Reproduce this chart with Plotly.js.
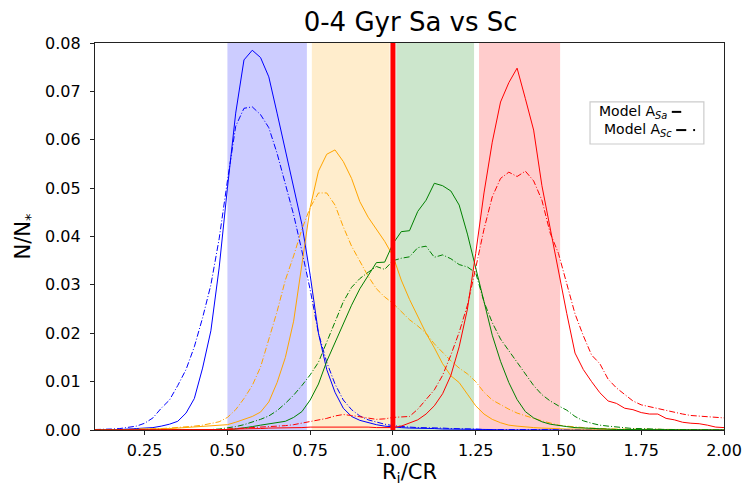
<!DOCTYPE html>
<html>
<head>
<meta charset="utf-8">
<script src="https://cdn.plot.ly/plotly-3.0.1.min.js"></script>
<style>html,body{margin:0;padding:0;background:#fff;}#chart{width:748px;height:486px;}</style>
</head>
<body>
<div id="chart"></div>
<script>
// Radius grid R_i/CR
const xR = [0.100,0.125,0.150,0.175,0.200,0.225,0.250,0.275,0.300,0.325,0.350,0.375,0.400,0.425,0.450,0.475,
0.500,0.525,0.550,0.575,0.600,0.625,0.650,0.675,0.700,0.725,0.750,0.775,0.800,0.825,0.850,0.875,0.900,0.925,0.950,0.975,
1.000,1.025,1.050,1.075,1.100,1.125,1.150,1.175,1.200,1.225,1.250,1.275,1.300,1.325,1.350,1.375,1.400,1.425,1.450,1.475,
1.500,1.525,1.550,1.575,1.600,1.625,1.650,1.675,1.700,1.725,1.750,1.775,1.800,1.825,1.850,1.875,1.900,1.925,1.950,1.975,2.000];

// Blue (0.50-0.75) population
const blueSa = [0,0,0.0001,0.0001,0.0002,0.0003,0.0004,0.0005,0.0008,0.0012,0.0018,0.0035,0.0065,0.0128,0.0205,0.0335,
0.0500,0.0655,0.0765,0.0785,0.0770,0.0730,0.0655,0.0580,0.0500,0.0425,0.0320,0.0200,0.0125,0.0078,0.0045,0.0028,0.0020,0.0015,0.0011,0.0008,
0.0006,0.0005,0.0004,0.0004,0.0003,0.0003,0.0002,0.0002,0.0002,0.0001,0.0001,0.0001,0.0001,0,0,0,0,0,0,0,
0,0,0,0,0,0,0,0,0,0,0,0,0,0,0,0,0,0,0,0,0];
const blueSc = [0.0001,0.0001,0.0002,0.0003,0.0005,0.0008,0.0014,0.0025,0.0045,0.0062,0.0092,0.0125,0.0172,0.0232,0.0300,0.0395,
0.0515,0.0628,0.0665,0.0668,0.0652,0.0625,0.0572,0.0510,0.0445,0.0370,0.0290,0.0200,0.0140,0.0095,0.0062,0.0042,0.0029,0.0021,0.0016,0.0012,
0.0009,0.0007,0.0006,0.0005,0.0005,0.0004,0.0004,0.0003,0.0003,0.0002,0.0002,0.0001,0.0001,0.0001,0,0,0,0,0,0,
0,0,0,0,0,0,0,0,0,0,0,0,0,0,0,0,0,0,0,0,0];

// Orange (0.75-1.00) population
const orangeSa = [0,0,0,0.0001,0.0001,0.0001,0.0002,0.0002,0.0003,0.0003,0.0004,0.0005,0.0007,0.0008,0.0009,0.0010,
0.0011,0.0016,0.0022,0.0028,0.0037,0.0058,0.0098,0.0150,0.0225,0.0340,0.0460,0.0535,0.0570,0.0579,0.0555,0.0520,0.0472,0.0440,0.0415,0.0390,
0.0360,0.0310,0.0270,0.0235,0.0200,0.0170,0.0137,0.0112,0.0098,0.0074,0.0050,0.0033,0.0022,0.0015,0.0010,0.0008,0.0006,0.0005,0.0004,0.0003,
0.0003,0.0002,0.0002,0.0002,0.0001,0.0001,0.0001,0.0001,0.0001,0,0,0,0,0,0,0,0,0,0,0,0];
const orangeSc = [0,0,0.0001,0.0001,0.0001,0.0002,0.0002,0.0003,0.0003,0.0004,0.0005,0.0006,0.0008,0.0010,0.0013,0.0017,
0.0026,0.0042,0.0065,0.0092,0.0130,0.0185,0.0245,0.0310,0.0360,0.0415,0.0460,0.0490,0.0490,0.0465,0.0420,0.0380,0.0350,0.0318,0.0292,0.0275,
0.0262,0.0245,0.0228,0.0215,0.0200,0.0178,0.0160,0.0143,0.0128,0.0116,0.0100,0.0078,0.0062,0.0052,0.0043,0.0035,0.0029,0.0024,0.0019,0.0014,
0.0010,0.0008,0.0006,0.0005,0.0004,0.0003,0.0003,0.0002,0.0002,0.0002,0.0001,0.0001,0.0001,0.0001,0.0001,0.0001,0,0,0,0,0];

// Green (1.00-1.25) population
const greenSa = [0,0,0,0,0,0,0,0,0,0,0,0,0,0,0,0.0001,
0.0001,0.0002,0.0004,0.0007,0.0010,0.0013,0.0015,0.0018,0.0026,0.0038,0.0062,0.0095,0.0142,0.0180,0.0220,0.0258,0.0292,0.0318,0.0346,0.0347,
0.0385,0.0410,0.0412,0.0452,0.0475,0.0510,0.0505,0.0494,0.0465,0.0405,0.0335,0.0268,0.0196,0.0142,0.0098,0.0063,0.0038,0.0025,0.0017,0.0012,
0.0009,0.0007,0.0005,0.0004,0.0003,0.0002,0.0002,0.0001,0.0001,0.0001,0.0001,0,0,0,0,0,0,0,0,0,0];
const greenSc = [0,0,0,0,0,0,0,0,0,0,0,0,0,0,0.0001,0.0002,
0.0004,0.0007,0.0011,0.0016,0.0022,0.0029,0.0040,0.0055,0.0072,0.0092,0.0114,0.0140,0.0182,0.0225,0.0265,0.0295,0.0313,0.0326,0.0338,0.0332,
0.0350,0.0355,0.0358,0.0377,0.0380,0.0357,0.0362,0.0354,0.0342,0.0337,0.0325,0.0265,0.0222,0.0188,0.0164,0.0140,0.0114,0.0092,0.0073,0.0060,
0.0050,0.0041,0.0028,0.0019,0.0014,0.0010,0.0008,0.0006,0.0004,0.0003,0.0003,0.0002,0.0002,0.0001,0.0001,0.0001,0.0001,0,0,0,0];

// Red (1.25-1.50) population
const redSa = [0,0,0,0,0,0,0,0,0,0,0,0,0,0,0,0,
0.0001,0.0002,0.0002,0.0003,0.0003,0.0004,0.0004,0.0005,0.0005,0.0005,0.0006,0.0006,0.0007,0.0007,0.0007,0.0007,0.0006,0.0006,0.0005,0.0005,
0.0005,0.0008,0.0014,0.0021,0.0033,0.0050,0.0075,0.0113,0.0172,0.0250,0.0365,0.0490,0.0595,0.0678,0.0718,0.0748,0.0685,0.0620,0.0505,0.0415,
0.0333,0.0241,0.0159,0.0125,0.0100,0.0077,0.0060,0.0055,0.0045,0.0042,0.0036,0.0033,0.0033,0.0024,0.0021,0.0016,0.0014,0.0013,0.0010,0.0006,0.0005];
const redSc = [0,0,0,0,0,0,0,0,0,0,0,0,0,0,0,0,
0.0002,0.0003,0.0004,0.0005,0.0005,0.0006,0.0007,0.0009,0.0011,0.0014,0.0017,0.0020,0.0024,0.0029,0.0032,0.0030,0.0027,0.0024,0.0022,0.0023,
0.0026,0.0027,0.0028,0.0043,0.0062,0.0083,0.0113,0.0155,0.0202,0.0258,0.0335,0.0415,0.0482,0.0520,0.0533,0.0524,0.0535,0.0515,0.0475,0.0407,
0.0365,0.0300,0.0240,0.0195,0.0155,0.0137,0.0105,0.0087,0.0074,0.0060,0.0052,0.0048,0.0044,0.0040,0.0036,0.0033,0.0030,0.0029,0.0028,0.0026,0.0025];

const xTicks = [0.25,0.50,0.75,1.00,1.25,1.50,1.75,2.00];
const yTicks = [0.00,0.01,0.02,0.03,0.04,0.05,0.06,0.07,0.08];

const series = [
  {y: blueSa, c: '#0000ff', d: 'solid'},
  {y: blueSc, c: '#0000ff', d: 'dashdot'},
  {y: orangeSa, c: '#ffa500', d: 'solid'},
  {y: orangeSc, c: '#ffa500', d: 'dashdot'},
  {y: greenSa, c: '#008000', d: 'solid'},
  {y: greenSc, c: '#008000', d: 'dashdot'},
  {y: redSa, c: '#ff0000', d: 'solid'},
  {y: redSc, c: '#ff0000', d: 'dashdot'}
];
const traces = series.map(s => ({
  x: xR, y: s.y, type: 'scatter', mode: 'lines',
  line: {color: s.c, width: 1, dash: s.d === 'dashdot' ? '6px,2px,1px,2px' : 'solid'},
  showlegend: false, hoverinfo: 'skip'
}));

function band(x0, x1, col) {
  return {type: 'rect', xref: 'x', yref: 'paper', x0: x0, x1: x1, y0: 0, y1: 1,
    fillcolor: col, line: {width: 0}, layer: 'below'};
}
const shapes = [
  band(0.50, 0.74, '#ccccff'),
  band(0.755, 0.99, '#ffedcc'),
  band(1.01, 1.245, '#cce6cc'),
  band(1.26, 1.505, '#ffcccc'),
  {type: 'line', xref: 'x', yref: 'paper', x0: 1.0, x1: 1.0, y0: 0, y1: 1, line: {color: '#ff0000', width: 5}, layer: 'above'},
  // legend box
  {type: 'rect', xref: 'paper', yref: 'paper', x0: 0.787, x1: 0.968, y0: 0.739, y1: 0.848,
    line: {color: '#cccccc', width: 1.2}, fillcolor: 'rgba(255,255,255,0.8)', layer: 'above'},
  {type: 'line', xref: 'paper', yref: 'paper', x0: 0.917, x1: 0.932, y0: 0.822, y1: 0.822, line: {color: '#000', width: 2}, layer: 'above'},
  {type: 'line', xref: 'paper', yref: 'paper', x0: 0.924, x1: 0.940, y0: 0.775, y1: 0.775, line: {color: '#000', width: 2}, layer: 'above'},
  {type: 'line', xref: 'paper', yref: 'paper', x0: 0.951, x1: 0.954, y0: 0.775, y1: 0.775, line: {color: '#000', width: 2}, layer: 'above'}
];

const annotations = [
  {xref: 'paper', yref: 'paper', x: 0.913, y: 0.822, xanchor: 'right', yanchor: 'middle', showarrow: false,
   text: 'Model A<sub><i>Sa</i></sub>', font: {size: 14, color: '#000'}},
  {xref: 'paper', yref: 'paper', x: 0.920, y: 0.775, xanchor: 'right', yanchor: 'middle', showarrow: false,
   text: 'Model A<sub><i>Sc</i></sub>', font: {size: 14, color: '#000'}}
];

const layout = {
  width: 748, height: 486,
  margin: {l: 95, r: 24, t: 43, b: 56, pad: 0},
  paper_bgcolor: '#fff', plot_bgcolor: '#fff',
  font: {family: 'DejaVu Sans', color: '#000', size: 16},
  title: {text: '0-4 Gyr Sa vs Sc', font: {size: 26, color: '#000'}, x: 0.549, xanchor: 'center', y: 0.955, yanchor: 'middle'},
  xaxis: {
    range: [0.1, 2.0], tickvals: xTicks, tickformat: '.2f',
    showgrid: false, zeroline: false, showline: true, mirror: true, linecolor: '#222', linewidth: 1.2,
    ticks: 'outside', ticklen: 4, tickwidth: 1, tickcolor: '#222', tickfont: {size: 16}, ticklabelstandoff: 2,
    title: {text: 'R<sub>i</sub>/CR', font: {size: 21}, standoff: 5}
  },
  yaxis: {
    range: [0, 0.08], tickvals: yTicks, tickformat: '.2f',
    showgrid: false, zeroline: false, showline: true, mirror: true, linecolor: '#222', linewidth: 1.2,
    ticks: 'outside', ticklen: 4, tickwidth: 1, tickcolor: '#222', tickfont: {size: 16}, ticklabelstandoff: 6,
    title: {text: 'N/N<sub>*</sub>', font: {size: 21}, standoff: 8}
  },
  shapes: shapes,
  annotations: annotations
};

Plotly.newPlot('chart', traces, layout, {displayModeBar: false, staticPlot: true});
</script>
</body>
</html>
